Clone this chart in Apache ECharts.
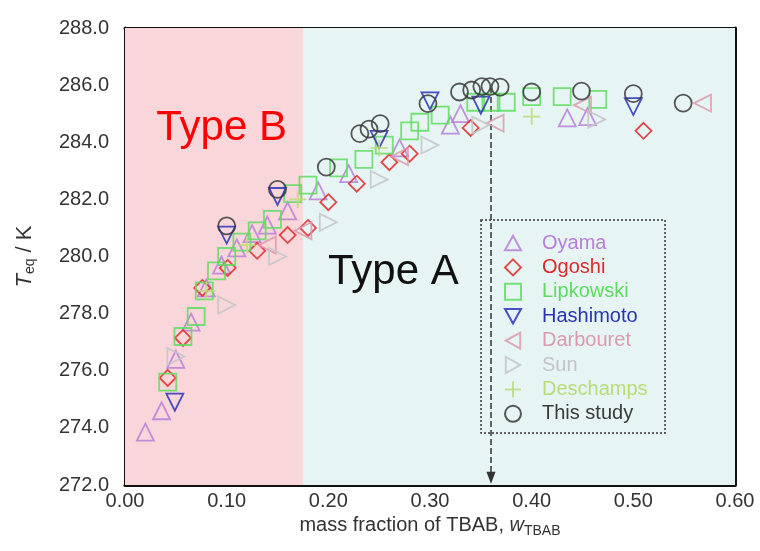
<!DOCTYPE html>
<html><head><meta charset="utf-8">
<script src="https://cdn.jsdelivr.net/npm/echarts@6/dist/echarts.min.js"></script>
<style>html,body{margin:0;padding:0;background:#fff}#c{width:760px;height:551px}</style>
</head><body><div id="c"></div>
<script>
// ---- data ----
const seriesNames = ['Oyama','Ogoshi','Lipkowski','Hashimoto','Darbouret','Sun','Deschamps','This study'];
const oyama = [[0.02,273.85],[0.036,274.6],[0.05,276.4],[0.065,277.7],[0.08,278.9],[0.095,279.7],[0.11,280.3],[0.125,280.8],[0.14,281.1],[0.16,281.6],[0.19,282.3],[0.22,282.9],[0.27,283.8],[0.32,284.6],[0.33,285.0],[0.435,284.85],[0.455,284.9]];
const ogoshi = [[0.042,275.75],[0.057,277.15],[0.076,278.9],[0.101,279.6],[0.13,280.2],[0.16,280.75],[0.18,281.0],[0.20,281.9],[0.228,282.55],[0.26,283.3],[0.28,283.6],[0.34,284.5],[0.51,284.4]];
const lipkowski = [[0.042,275.6],[0.057,277.2],[0.07,277.9],[0.078,278.8],[0.09,279.5],[0.10,280.0],[0.115,280.5],[0.13,280.9],[0.145,281.3],[0.165,282.2],[0.18,282.5],[0.21,283.1],[0.235,283.4],[0.255,283.9],[0.28,284.4],[0.29,284.7],[0.31,284.95],[0.345,285.4],[0.36,285.4],[0.375,285.4],[0.40,285.6],[0.43,285.6],[0.465,285.5]];
const hashimoto = [[0.049,274.9],[0.10,280.75],[0.15,282.1],[0.25,284.1],[0.30,285.45],[0.35,285.3],[0.50,285.25]];
const darbouret = [[0.14,280.4],[0.175,280.9],[0.27,283.5],[0.364,284.67],[0.45,285.3],[0.568,285.37]];
const sun = [[0.05,276.5],[0.10,278.3],[0.15,280.0],[0.20,281.2],[0.25,282.7],[0.30,283.9],[0.35,284.6],[0.464,284.8]];
const deschamps = [[0.08,278.8],[0.12,280.4],[0.17,282.0],[0.25,283.8],[0.40,284.9]];
const thisStudy = [[0.10,281.07],[0.15,282.35],[0.198,283.13],[0.231,284.3],[0.24,284.46],[0.251,284.65],[0.298,285.35],[0.329,285.76],[0.341,285.83],[0.351,285.95],[0.359,285.95],[0.369,285.93],[0.40,285.76],[0.449,285.79],[0.50,285.7],[0.549,285.37]];
const xTickLabels = ['0.00','0.10','0.20','0.30','0.40','0.50','0.60'];
const yTickLabels = ['272.0','274.0','276.0','278.0','280.0','282.0','284.0','286.0','288.0'];
const typeBoundary = 0.175;
const arrowX = 0.36, arrowTop = 285.9, arrowBottom = 272.25;
const typeBLabel = {text:'Type B', x:0.095, y:284.5};
const typeALabel = {text:'Type A', x:0.264, y:279.45};

// ---- styles ----
const colors = ['#b77fd9','#e02a2a','#5fdc5f','#2933b5','#dc9aae','#c4c4c8','#b8dc78','#3a3a3a'];
const TRI_UP = 'path://M5,0L10,9L0,9Z';
const TRI_DOWN = 'path://M0,0L10,0L5,9Z';
const TRI_LEFT = 'path://M9,0L9,10L0,5Z';
const TRI_RIGHT = 'path://M0,0L0,10L9,5Z';
const PLUS = 'path://M5,0L5,10M0,5L10,5';
const symbols = [TRI_UP,'diamond','rect',TRI_DOWN,TRI_LEFT,TRI_RIGHT,PLUS,'circle'];
const sizes = [17,16,17,17,17,17,17,17];
const datas = [oyama,ogoshi,lipkowski,hashimoto,darbouret,sun,deschamps,thisStudy];

const FONT = 'Liberation Sans, Arial, sans-serif';
const chart = echarts.init(document.getElementById('c'));

const series = seriesNames.map((n,i)=>({
  name:n, type:'scatter', data:datas[i], symbol:symbols[i], symbolSize:sizes[i],
  itemStyle:{color:'rgba(255,255,255,0)', borderColor:colors[i], borderWidth:1.8, opacity:0.85},
  z: 3+i
}));
series.unshift({
  name:'bg', type:'scatter', data:[], silent:true, z:1,
  markArea:{silent:true, data:[
    [{coord:[0,272], itemStyle:{color:'#f9d6d9'}},{coord:[typeBoundary,288]}],
    [{coord:[typeBoundary,272], itemStyle:{color:'#e6f4f4'}},{coord:[0.6,288]}]
  ]},
  markLine:{silent:true, symbol:['none','triangle'], symbolSize:[9,12],
    lineStyle:{color:'#333', width:1.5, type:'dashed'}, label:{show:false},
    data:[[{coord:[arrowX,arrowTop]},{coord:[arrowX,arrowBottom]}]]},
  markPoint:{silent:true, symbol:'circle', symbolSize:0, data:[
    {coord:[typeBLabel.x,typeBLabel.y], label:{show:true, formatter:typeBLabel.text, color:'#ff0000', fontSize:42, fontFamily:FONT, position:'inside'}},
    {coord:[typeALabel.x,typeALabel.y], label:{show:true, formatter:typeALabel.text, color:'#111', fontSize:42, fontFamily:FONT, position:'inside'}}
  ]}
});

const axisCommon = {axisLine:{show:true, onZero:false, lineStyle:{color:'#111', width:3}},
  axisTick:{show:true, inside:true, length:6, lineStyle:{color:'#111', width:2}},
  splitLine:{show:false}};

chart.setOption({
  animation:false,
  backgroundColor:'#fff',
  grid:{left:125, right:25, top:28, bottom:66, containLabel:false, outerBoundsMode:'none'},
  xAxis:[
    Object.assign({type:'value', min:0, max:0.6, interval:0.1, position:'bottom',
      axisLabel:{color:'#333', fontSize:20, fontFamily:FONT, margin:6, formatter:(v)=>xTickLabels[Math.round(v*10)]},
      name:'{n|mass fraction of TBAB, }{i|w}{s|TBAB}', nameLocation:'middle', nameGap:27,
      nameTextStyle:{rich:{n:{fontSize:20,color:'#333',fontFamily:FONT}, i:{fontSize:20,color:'#333',fontStyle:'italic',fontFamily:FONT}, s:{fontSize:14,color:'#333',fontFamily:FONT, padding:[10,0,0,0]}}}
    }, axisCommon),
    Object.assign({type:'value', min:0, max:0.6, interval:0.1, position:'top', axisLabel:{show:false}}, axisCommon)
  ],
  yAxis:[
    Object.assign({type:'value', min:272, max:288, interval:2, position:'left',
      axisLabel:{color:'#333', fontSize:20, fontFamily:FONT, margin:16, formatter:(v)=>yTickLabels[Math.round((v-272)/2)]},
      name:'{i|T}{s|eq}{n| / K}', nameLocation:'middle', nameGap:88, nameRotate:90,
      nameTextStyle:{rich:{i:{fontSize:22,color:'#333',fontStyle:'italic',fontFamily:FONT}, s:{fontSize:14,color:'#333',fontFamily:FONT,padding:[10,0,0,0]}, n:{fontSize:22,color:'#333',fontFamily:FONT}}}
    }, axisCommon),
    Object.assign({type:'value', min:272, max:288, interval:2, position:'right', axisLabel:{show:false}}, axisCommon)
  ],
  legend:{orient:'vertical', left:504, top:233, padding:0, itemWidth:16, itemHeight:16, itemGap:4.4,
    data:seriesNames.map((n,i)=>({name:n, icon:symbols[i], textStyle:{color:colors[i]}})),
    textStyle:{fontSize:20, lineHeight:18, fontFamily:FONT, padding:[0,0,0,16]}},
  graphic:[{type:'rect', shape:{x:481, y:220, width:184, height:213}, silent:true, z:100,
    style:{fill:'none', stroke:'#333', lineWidth:1.5, lineDash:[2,2]}}],
  series
});
</script></body></html>
